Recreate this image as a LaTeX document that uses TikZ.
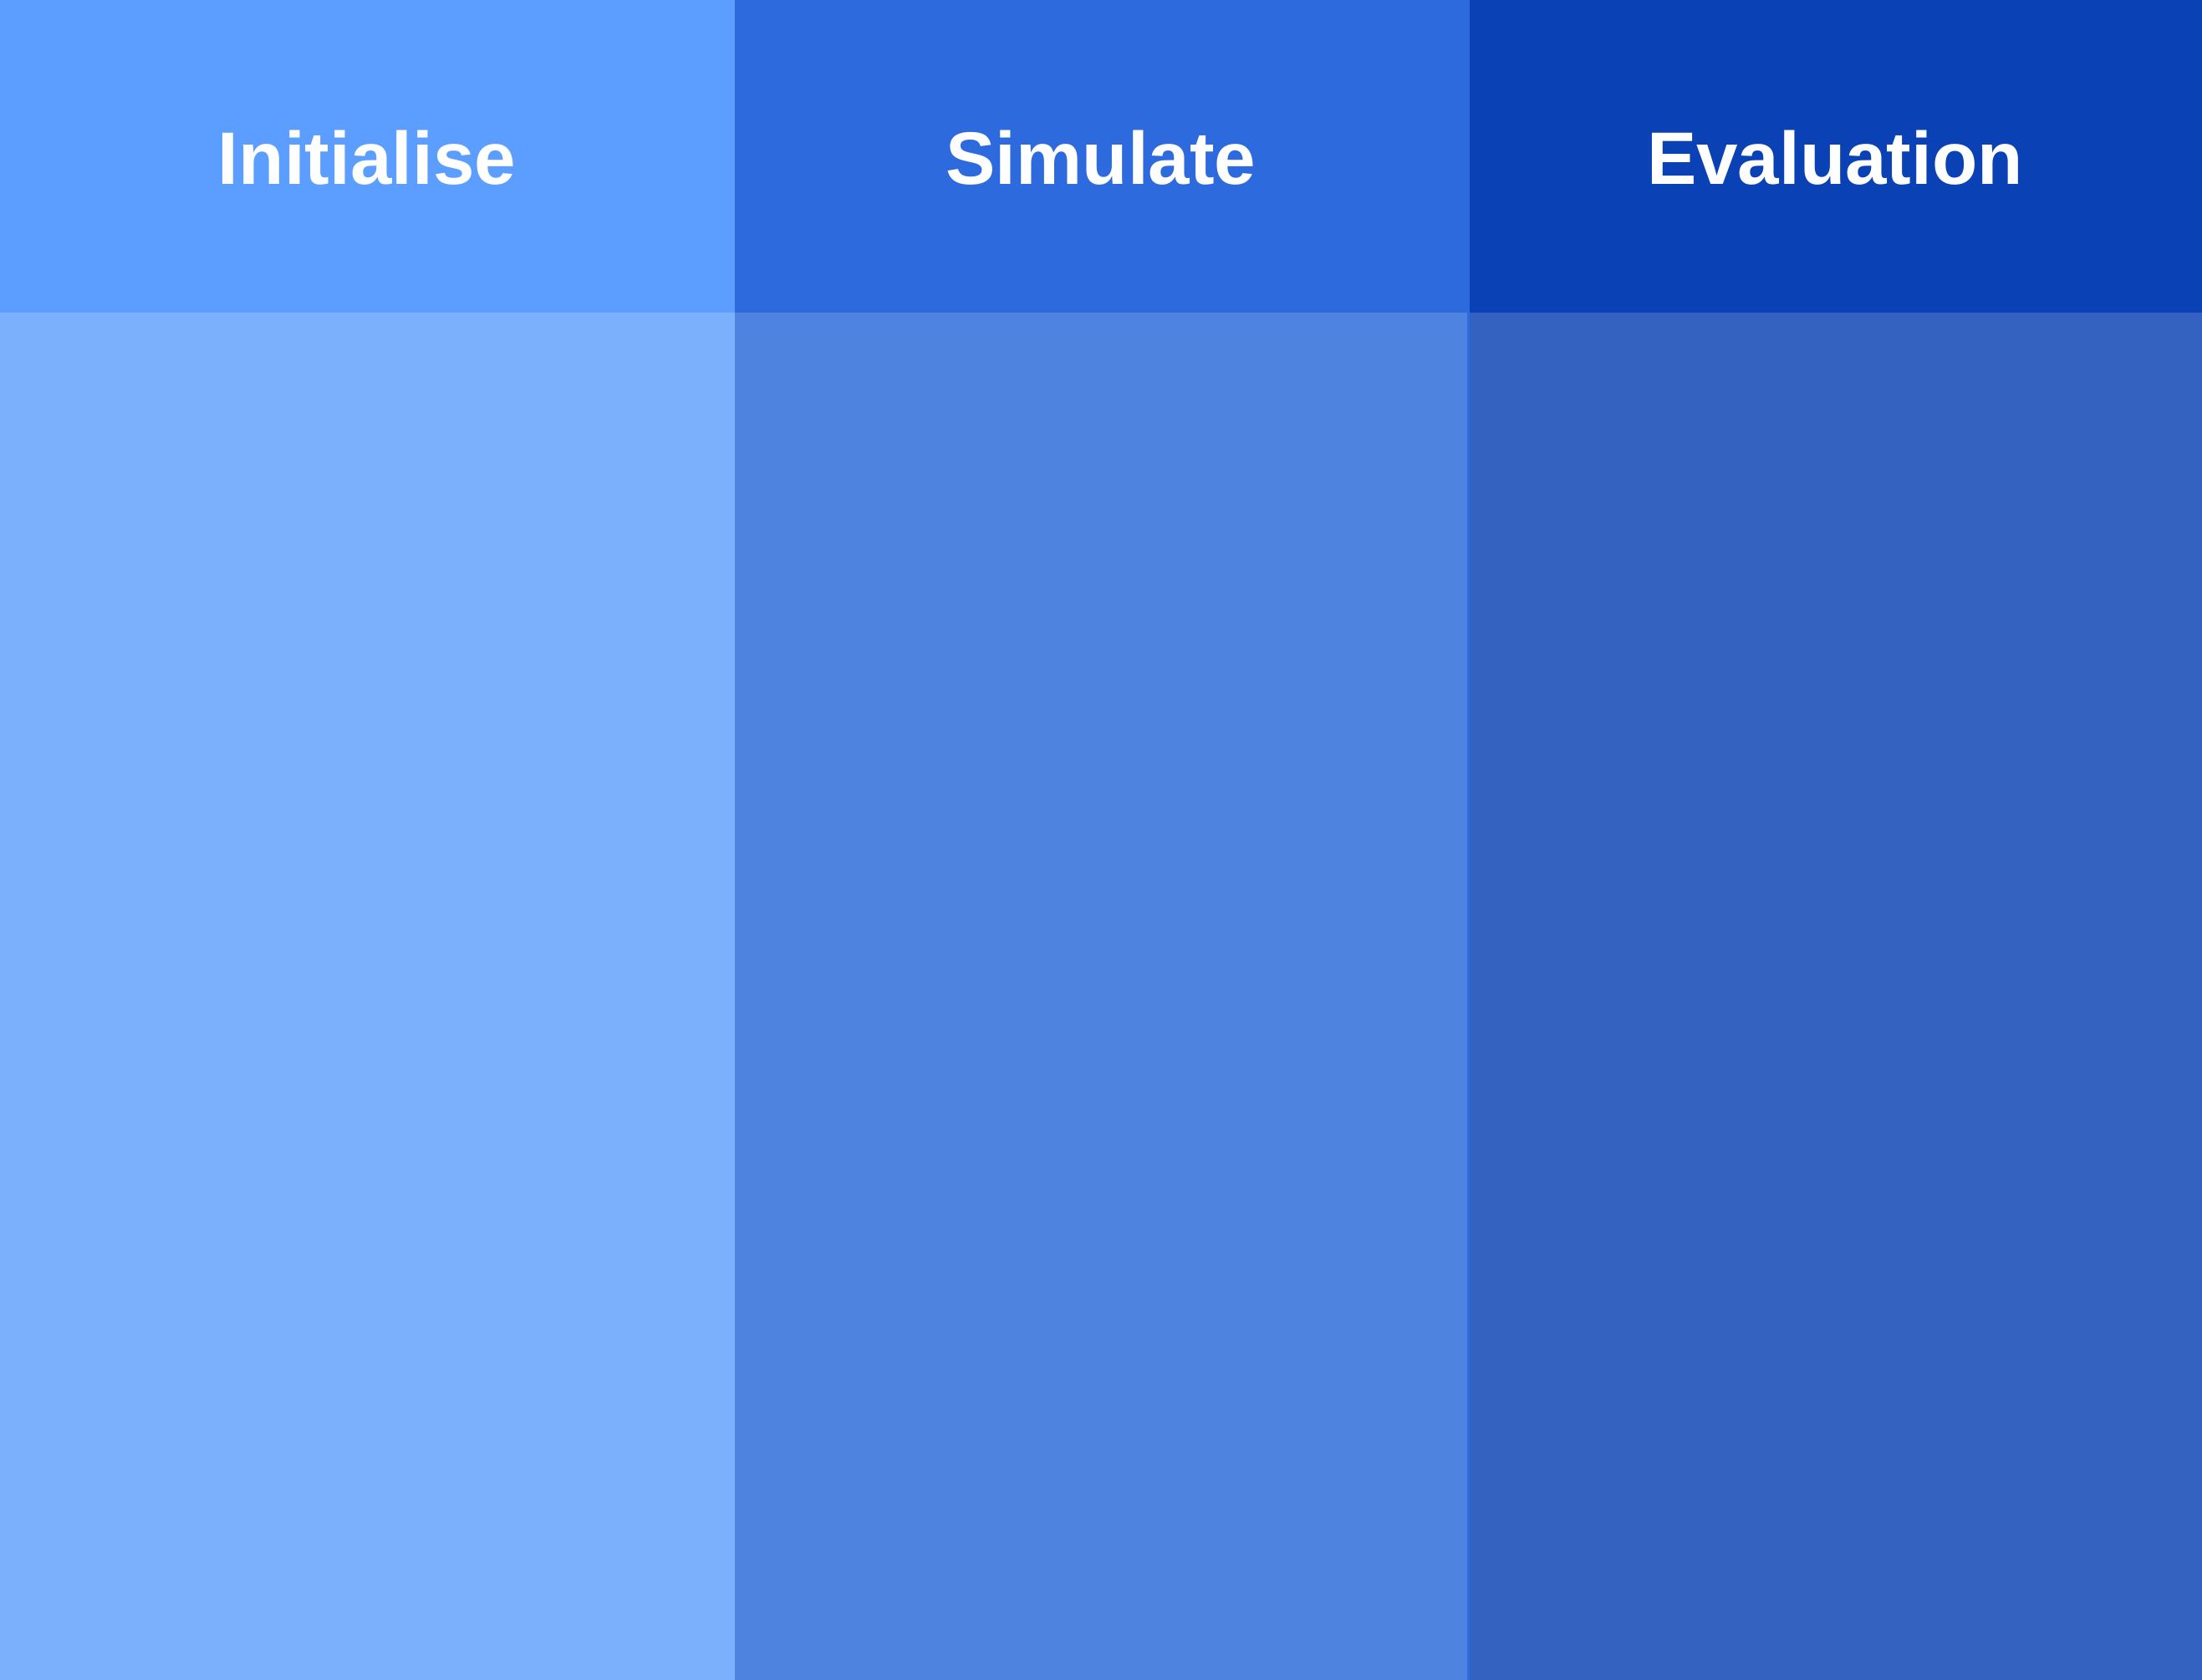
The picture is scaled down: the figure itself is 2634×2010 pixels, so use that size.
\documentclass[tikz,border=0pt]{standalone}
\usepackage{fontspec}
\setmainfont{Liberation Sans}
\definecolor{headA}{HTML}{5B9EFF}
\definecolor{bodyA}{HTML}{7BB0FD}
\definecolor{headB}{HTML}{2C6ADD}
\definecolor{bodyB}{HTML}{4E83E0}
\definecolor{headC}{HTML}{0A41B4}
\definecolor{bodyC}{HTML}{3462C1}
\begin{document}
\begin{tikzpicture}[x=0.01cm,y=-0.01cm,
  lanehead/.style={text=white,font=\bfseries\fontsize{25.3}{30}\selectfont,inner sep=0pt,anchor=center}]
\useasboundingbox (0,0) rectangle (2634,2010);
% lane bodies
\fill[bodyA] (0,374) rectangle (879,2010);
\fill[bodyB] (879,374) rectangle (1756,2010);
\fill[bodyC] (1756,374) rectangle (2634,2010);
% lane headers
\fill[headA] (0,0) rectangle (879,374);
\fill[headB] (879,0) rectangle (1756,374);
\fill[headC] (1756,0) rectangle (2634,374);
% divider between second and third lane
\fill[headB] (1755,0) rectangle (1758,2010);
% header titles
\node[lanehead] (init) at (439,189) {Initialise};
\node[lanehead] (sim) at (1317,189) {Simulate};
\node[lanehead] (eval) at (2195,189) {Evaluation};
\end{tikzpicture}
\end{document}
